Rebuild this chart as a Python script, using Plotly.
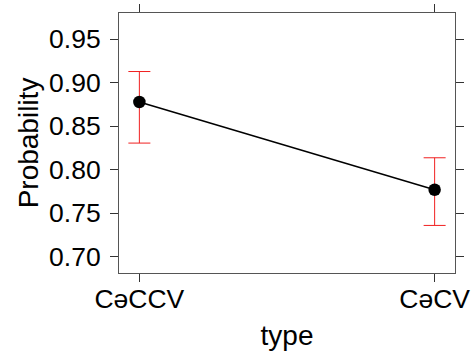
import plotly.graph_objects as go

categories = ["CəCCV", "CəCV"]
prob = [0.8776, 0.7767]
upper = [0.9127, 0.8135]
lower = [0.8304, 0.7357]
y_ticks = [0.70, 0.75, 0.80, 0.85, 0.90, 0.95]

fig = go.Figure()
fig.add_trace(go.Scatter(
    x=categories, y=prob, mode="lines+markers",
    line=dict(color="black", width=1.5),
    marker=dict(color="black", size=12.5),
    error_y=dict(type="data", symmetric=False,
                 array=[u - p for u, p in zip(upper, prob)],
                 arrayminus=[p - l for p, l in zip(prob, lower)],
                 color="#f02020", thickness=1, width=11),
    showlegend=False,
))

font = dict(family="Liberation Sans, Arial, sans-serif", color="black")
fig.update_layout(
    width=476, height=351,
    margin=dict(l=119, r=21, t=13, b=78),
    plot_bgcolor="white", paper_bgcolor="white",
    font=font,
    xaxis=dict(type="category", range=[-0.069, 1.069], automargin=False,
               showline=True, linecolor="#555", linewidth=1, mirror="ticks",
               ticks="outside", ticklen=8, tickcolor="#333", showgrid=False,
               tickfont=dict(size=26.5), ticklabelstandoff=-6,
               title=dict(text="type", font=dict(size=28), standoff=16)),
    yaxis=dict(range=[0.681, 0.980], tickvals=y_ticks, automargin=False,
               ticktext=[f"{v:.2f}" for v in y_ticks],
               showline=True, linecolor="#555", linewidth=1, mirror="ticks",
               ticks="outside", ticklen=8, tickcolor="#333", showgrid=False,
               zeroline=False,
               tickfont=dict(size=26.5), ticklabelstandoff=4,
               title=dict(text="Probability", font=dict(size=28), standoff=2)),
)
fig.write_html("out.html")
